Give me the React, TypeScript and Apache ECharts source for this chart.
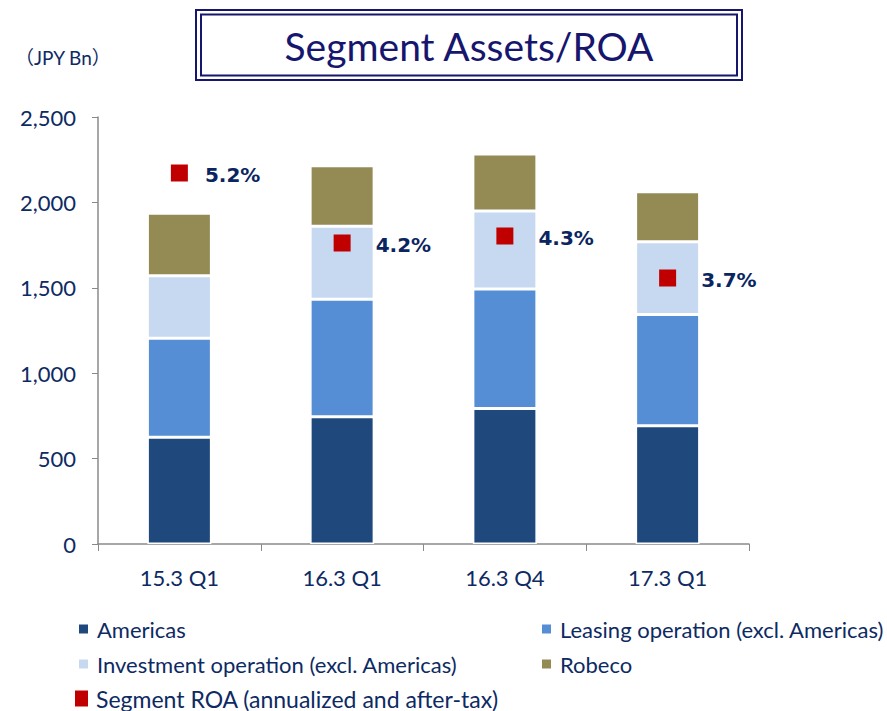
import React, { useEffect, useRef } from "react";
import * as echarts from "echarts";

const categories = ["15.3 Q1", "16.3 Q1", "16.3 Q4", "17.3 Q1"];
const americas = [625, 745, 794, 693];
const leasing = [579, 688, 699, 650];
const investment = [367, 427, 457, 427];
const robeco = [365, 355, 333, 293];
const roa = [5.2, 4.2, 4.3, 3.7];
const yTicks = [0, 500, 1000, 1500, 2000, 2500];

const NAVY = "#0d2a63";
const TITLE = "#16166e";
const FONT = "Lato, 'Noto Sans', sans-serif";

export default function App() {
  const ref = useRef<HTMLDivElement>(null);
  useEffect(() => {
    document.body.style.margin = "0";
    const chart = echarts.init(ref.current!, null, { renderer: "svg" });
    const barStyle = (color: string) => ({ color, borderColor: "#ffffff", borderWidth: 1.5 });
    const mkBar = (name: string, data: number[], color: string) => ({
      name,
      type: "bar",
      stack: "assets",
      data,
      barWidth: 64,
      itemStyle: barStyle(color),
      emphasis: { disabled: true },
    });
    const legendBase = (left: number, top: number, name: string, w = 11, h = 11, fs = 22) => ({
      left,
      top,
      orient: "horizontal",
      padding: 0,
      icon: "rect",
      itemWidth: w,
      itemHeight: h,
      selectedMode: false,
      data: [name],
      textStyle: { color: NAVY, fontSize: fs, fontFamily: FONT, padding: [0, 0, 0, 3] },
    });
    chart.setOption({
      animation: false,
      textStyle: { fontFamily: FONT },
      grid: { left: 98, right: 138, top: 117, bottom: 167 },
      xAxis: {
        type: "category",
        data: categories,
        axisLine: { lineStyle: { color: "#8a8a8a", width: 1.5 } },
        axisTick: { show: true, length: 7, lineStyle: { color: "#8a8a8a" } },
        axisLabel: { color: NAVY, fontSize: 22, fontFamily: FONT, margin: 22 },
      },
      yAxis: [
        {
          type: "value",
          min: 0,
          max: 2500,
          interval: 500,
          axisLine: { show: true, lineStyle: { color: "#8a8a8a", width: 1.5 } },
          axisTick: { show: true, length: 6, lineStyle: { color: "#8a8a8a" } },
          splitLine: { show: false },
          axisLabel: {
            color: NAVY,
            fontSize: 22,
            fontFamily: FONT,
            margin: 22,
            formatter: (v: number) => (yTicks.includes(v) ? v.toLocaleString("en-US") : ""),
          },
        },
        { type: "value", min: -0.1, max: 6, show: false, splitLine: { show: false } },
      ],
      legend: [
        legendBase(77, 618, "Americas"),
        legendBase(540, 618, "Leasing operation (excl. Americas)"),
        legendBase(77, 653, "Investment operation (excl. Americas)"),
        legendBase(540, 653, "Robeco"),
        legendBase(75, 687, "Segment ROA (annualized and after-tax)", 13, 16, 23),
      ],
      series: [
        mkBar("Americas", americas, "#1f497d"),
        mkBar("Leasing operation (excl. Americas)", leasing, "#558ed5"),
        mkBar("Investment operation (excl. Americas)", investment, "#c6d9f1"),
        mkBar("Robeco", robeco, "#948a54"),
        {
          name: "Segment ROA (annualized and after-tax)",
          type: "scatter",
          yAxisIndex: 1,
          symbol: "rect",
          symbolSize: 17,
          z: 5,
          itemStyle: { color: "#c00000", opacity: 1 },
          data: roa.map((v, i) => ({
            value: v,
            label: { distance: i === 0 ? 17 : 25 },
          })),
          label: {
            show: true,
            position: "right",
            formatter: (p: any) => `${p.value}%`,
            color: "#0a2560",
            opacity: 1,
            fontSize: 20,
            fontWeight: "bold",
            fontFamily: "'DejaVu Sans', Verdana, sans-serif",
            offset: [0, 2],
          },
          emphasis: { disabled: true },
        },
      ],
      graphic: [
        {
          type: "rect",
          shape: { x: 196, y: 10, width: 546, height: 70 },
          style: { fill: "none", stroke: TITLE, lineWidth: 2 },
        },
        {
          type: "rect",
          shape: { x: 201, y: 14.5, width: 536, height: 61 },
          style: { fill: "#fff", stroke: TITLE, lineWidth: 2 },
        },
        {
          type: "text",
          x: 469,
          y: 46,
          style: {
            text: "Segment Assets/ROA",
            fill: TITLE,
            font: `39px ${FONT}`,
            align: "center",
            verticalAlign: "middle",
          },
        },
        {
          type: "text",
          x: 15,
          y: 57,
          style: {
            text: "（JPY Bn）",
            fill: NAVY,
            font: "19px Lato, 'Noto Sans CJK JP', sans-serif",
            verticalAlign: "middle",
          },
        },
      ],
    });
    return () => chart.dispose();
  }, []);
  return <div ref={ref} style={{ width: 887, height: 711 }} />;
}
